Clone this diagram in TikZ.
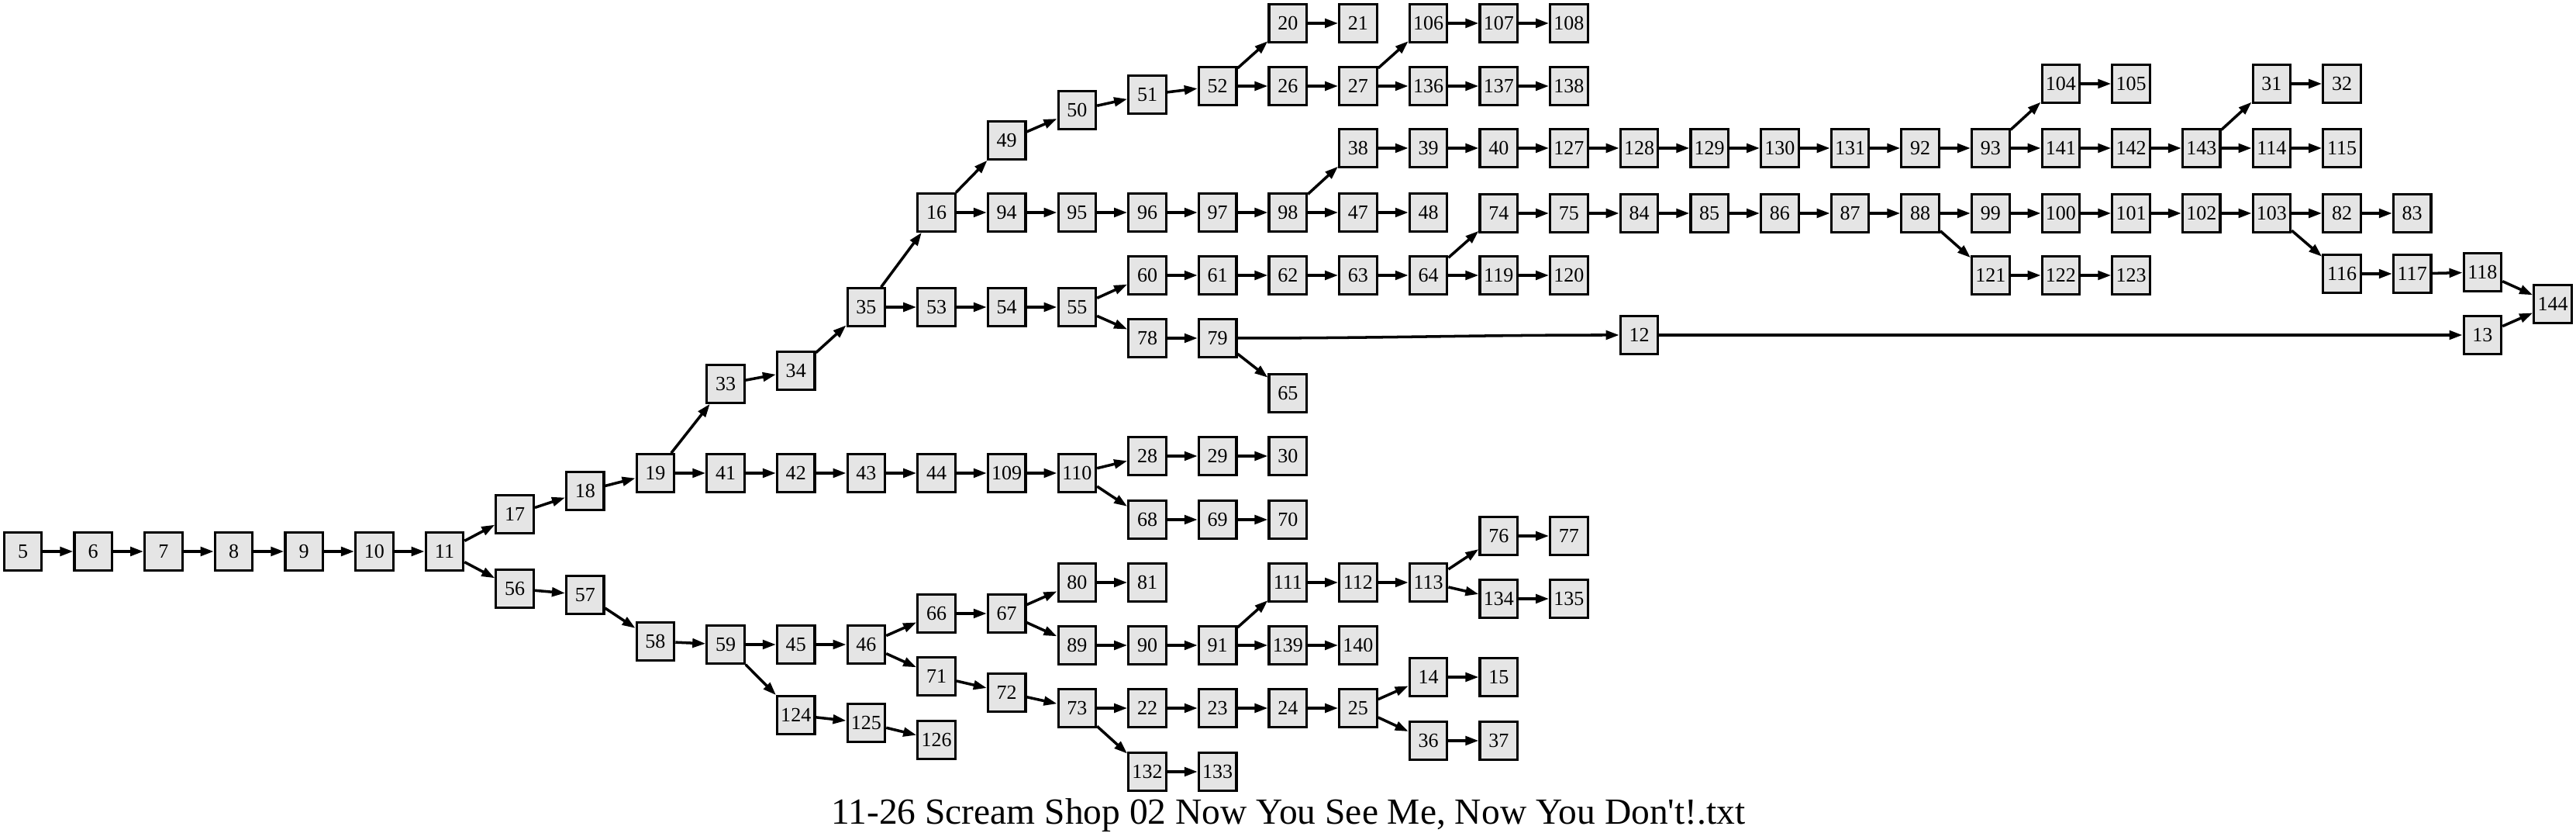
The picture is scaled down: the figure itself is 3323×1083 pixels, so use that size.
\documentclass[tikz,border=0pt]{standalone}
\usepackage{fontspec}
\usetikzlibrary{arrows.meta}
\newfontfamily\graphfont{Liberation Serif}
\definecolor{boxgrey}{RGB}{229,229,229}

\begin{document}
\begin{tikzpicture}[x=0.01cm, y=-0.01cm,
    box/.style={draw, fill=boxgrey, line width=0.9pt, inner sep=0pt,
      minimum width=0.485cm, minimum height=0.485cm,
      font=\graphfont\fontsize{7.4}{8}\selectfont},
    edge/.style={line width=1pt, -{Triangle[length=0.17cm, width=0.115cm]}}]
  \useasboundingbox (0,0) rectangle (3323,1083);
  % Nodes: name / column / row
  \foreach \n/\c/\r in {5/0/711, 6/1/711, 7/2/711, 8/3/711, 9/4/711, 10/5/711, 11/6/711,
      17/7/663, 56/7/759, 18/8/633, 57/8/767, 19/9/610, 58/9/827,
      33/10/495, 41/10/610, 59/10/831,
      34/11/478, 42/11/610, 45/11/831, 124/11/922,
      35/12/396, 43/12/610, 46/12/831, 125/12/932,
      16/13/274, 53/13/396, 44/13/610, 66/13/791, 71/13/872, 126/13/954,
      49/14/181, 94/14/274, 54/14/396, 109/14/610, 67/14/791, 72/14/893,
      50/15/142, 95/15/274, 55/15/396, 110/15/610, 80/15/751, 89/15/832, 73/15/913,
      51/16/122, 96/16/274, 60/16/355, 78/16/436, 28/16/588, 68/16/670, 81/16/751,
      90/16/832, 22/16/913, 132/16/995,
      52/17/111, 97/17/274, 61/17/355, 79/17/436, 29/17/588, 69/17/670, 91/17/832,
      23/17/913, 133/17/995,
      20/18/30, 26/18/111, 98/18/274, 62/18/355, 65/18/507, 30/18/588, 70/18/670,
      111/18/751, 139/18/832, 24/18/913,
      21/19/30, 27/19/111, 38/19/191, 47/19/274, 63/19/355, 112/19/751, 140/19/832, 25/19/913,
      106/20/30, 136/20/111, 39/20/191, 48/20/274, 64/20/355, 113/20/751, 14/20/873, 36/20/955,
      107/21/30, 137/21/111, 40/21/191, 74/21/275, 119/21/355, 76/21/691, 134/21/772,
      15/21/873, 37/21/955,
      108/22/30, 138/22/111, 127/22/191, 75/22/275, 120/22/355, 77/22/691, 135/22/772,
      128/23/191, 84/23/275, 12/23/432,
      129/24/191, 85/24/275, 130/25/191, 86/25/275, 131/26/191, 87/26/275,
      92/27/191, 88/27/275,
      93/28/191, 99/28/275, 121/28/355,
      104/29/108, 141/29/191, 100/29/275, 122/29/355,
      105/30/108, 142/30/191, 101/30/275, 123/30/355,
      143/31/191, 102/31/275,
      31/32/108, 114/32/191, 103/32/275,
      32/33/108, 115/33/191, 82/33/275, 116/33/353,
      83/34/275, 117/34/353,
      118/35/351, 13/35/432,
      144/36/392}
    \node[box] (n\n) at ({29.6+90.65*\c},\r) {\n};
  % Edges
  \foreach \a/\b in {5/6, 6/7, 7/8, 8/9, 9/10, 10/11, 11/17, 11/56, 17/18, 18/19,
      19/33, 19/41, 33/34, 34/35, 35/16, 35/53, 16/49, 16/94, 49/50, 50/51, 51/52,
      52/20, 52/26, 20/21, 26/27, 27/106, 27/136, 106/107, 107/108, 136/137, 137/138,
      94/95, 95/96, 96/97, 97/98, 98/38, 98/47, 47/48, 38/39, 39/40, 40/127,
      127/128, 128/129, 129/130, 130/131, 131/92, 92/93, 93/104, 93/141, 104/105,
      141/142, 142/143, 143/31, 143/114, 31/32, 114/115,
      53/54, 54/55, 55/60, 55/78, 60/61, 61/62, 62/63, 63/64, 64/74, 64/119, 119/120,
      74/75, 75/84, 84/85, 85/86, 86/87, 87/88, 88/99, 88/121, 121/122, 122/123,
      99/100, 100/101, 101/102, 102/103, 103/82, 82/83, 103/116, 116/117, 117/118,
      118/144, 78/79, 79/65, 12/13, 13/144,
      41/42, 42/43, 43/44, 44/109, 109/110, 110/28, 110/68, 28/29, 29/30, 68/69, 69/70,
      56/57, 57/58, 58/59, 59/45, 59/124, 45/46, 46/66, 46/71, 66/67, 67/80, 67/89,
      80/81, 89/90, 90/91, 91/111, 91/139, 139/140, 111/112, 112/113, 113/76, 113/134,
      76/77, 134/135, 71/72, 72/73, 73/22, 73/132, 22/23, 23/24, 24/25, 25/14, 25/36,
      14/15, 36/37, 132/133, 124/125, 125/126}
    \draw[edge] (n\a) -- (n\b);
  \draw[edge] (n79) to[out=0, in=180] (n12);
  % Title
  \node[anchor=base, inner sep=0pt, font=\graphfont\fontsize{13.5}{16}\selectfont] (title)
    at (1662,1063) {11-26 Scream Shop 02 Now You See Me, Now You Don't!.txt};
\end{tikzpicture}
\end{document}
